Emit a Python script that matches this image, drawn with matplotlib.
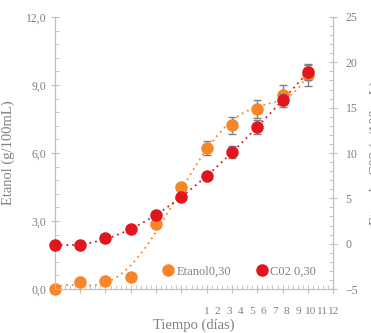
import matplotlib
matplotlib.use('Agg')
import matplotlib.pyplot as plt
from matplotlib.ticker import MultipleLocator, AutoMinorLocator, FuncFormatter
import numpy as np

# --- Data: ethanol (left axis) and CO2 (right axis) per sampling day ---
dias = np.arange(11)
etanol = [0.0, 0.31, 0.37, 0.53, 2.87, 4.48, 6.22, 7.23, 7.94, 8.56, 9.42]
etanol_err = [0, 0, 0, 0, 0.05, 0.12, 0.3, 0.38, 0.4, 0.45, 0.48]
co2 = [-0.1, -0.1, 0.6, 1.6, 3.2, 5.1, 7.5, 10.1, 12.9, 15.8, 18.9]
co2_err = [0, 0, 0, 0, 0, 0, 0.3, 0.7, 0.75, 0.7, 0.9]
dia_labels = [str(d) for d in range(1, 13)]

ORANGE = '#F5862A'
RED = '#E0161E'
GREY = '#808080'
SPINE = '#BFBFBF'

plt.rcParams['font.family'] = ['Liberation Serif', 'DejaVu Serif']

fig = plt.figure(figsize=(3.71, 3.33), dpi=100)
ax = fig.add_axes([0.148, 0.132, 0.75, 0.817])
ax2 = ax.twinx()

def comma(v, pos):
    return f'{v:.1f}'.replace('.', ',')

# trend lines (polynomial fits of each series)
xs = np.linspace(0, 10, 200)
fit_et = np.polyval(np.polyfit(dias, etanol, 5), xs)
fit_co2 = np.polyval(np.polyfit(dias, co2, 3), xs)

ax.plot(xs, fit_et, color=ORANGE, ls=(0, (1, 2.2)), lw=1.3)
ax.errorbar(dias, etanol, yerr=etanol_err, fmt='o', color=ORANGE, ms=8,
            ecolor=GREY, elinewidth=1, capsize=3, clip_on=False, zorder=3)

ax2.plot(xs, fit_co2, color=RED, ls=(0, (1, 2.2)), lw=1.3)
ax2.errorbar(dias, co2, yerr=co2_err, fmt='o', color=RED, ms=8,
             ecolor=GREY, elinewidth=1, capsize=3, clip_on=False, zorder=3)

ax.set_xlim(0, 11)
ax.set_ylim(0, 12)
ax2.set_ylim(-5, 25)

ax.yaxis.set_major_locator(MultipleLocator(3))
ax.yaxis.set_minor_locator(AutoMinorLocator(5))
ax.yaxis.set_major_formatter(FuncFormatter(comma))
ax.xaxis.set_major_locator(MultipleLocator(1))
ax.xaxis.set_minor_locator(AutoMinorLocator(5))
ax.xaxis.set_major_formatter(FuncFormatter(lambda v, p: ''))
ax2.yaxis.set_major_locator(MultipleLocator(5))
ax2.yaxis.set_minor_locator(AutoMinorLocator(5))

for a in (ax, ax2):
    a.tick_params(which='major', direction='inout', length=6, color=SPINE,
                  labelcolor=GREY, labelsize=8.5)
    a.tick_params(which='minor', direction='in', length=3, color=SPINE)
    for side in ('top', 'left', 'right', 'bottom'):
        a.spines[side].set_color(SPINE)
    a.spines['top'].set_visible(False)
ax.tick_params(axis='y', which='major', pad=3)
ax.tick_params(axis='x', which='both', top=False)
ax2.tick_params(axis='y', which='major', pad=6)

ax.set_ylabel('Etanol (g/100mL)', color=GREY, fontsize=10.5, labelpad=8)
ax2.set_ylabel('Etanol - C02 (g/100 mL)', color=GREY, fontsize=10.5, labelpad=8)
ax.set_xlabel('Tiempo (días)', color=GREY, fontsize=10.5, labelpad=15)

# day labels shown along the right part of the time axis
ax3 = ax.twiny()
ax3.set_xlim(-12, 12)
ax3.set_xticks(range(1, 13))
ax3.set_xticklabels(dia_labels)
ax3.xaxis.set_ticks_position('bottom')
ax3.tick_params(axis='x', length=0, pad=13, labelsize=8.2, labelcolor=GREY)
for side in ax3.spines:
    ax3.spines[side].set_visible(False)

h1 = plt.Line2D([], [], marker='o', ls='none', color=ORANGE, ms=8)
h2 = plt.Line2D([], [], marker='o', ls='none', color=RED, ms=8)
leg = ax.legend([h1, h2], ['Etanol0,30', 'C02 0,30'], ncol=2, frameon=False,
                loc='lower right', bbox_to_anchor=(0.98, 0.0), fontsize=9,
                handlelength=0.6, handletextpad=0.35, columnspacing=2.2)
for t in leg.get_texts():
    t.set_color(GREY)

fig.savefig('out.png', dpi=100)
